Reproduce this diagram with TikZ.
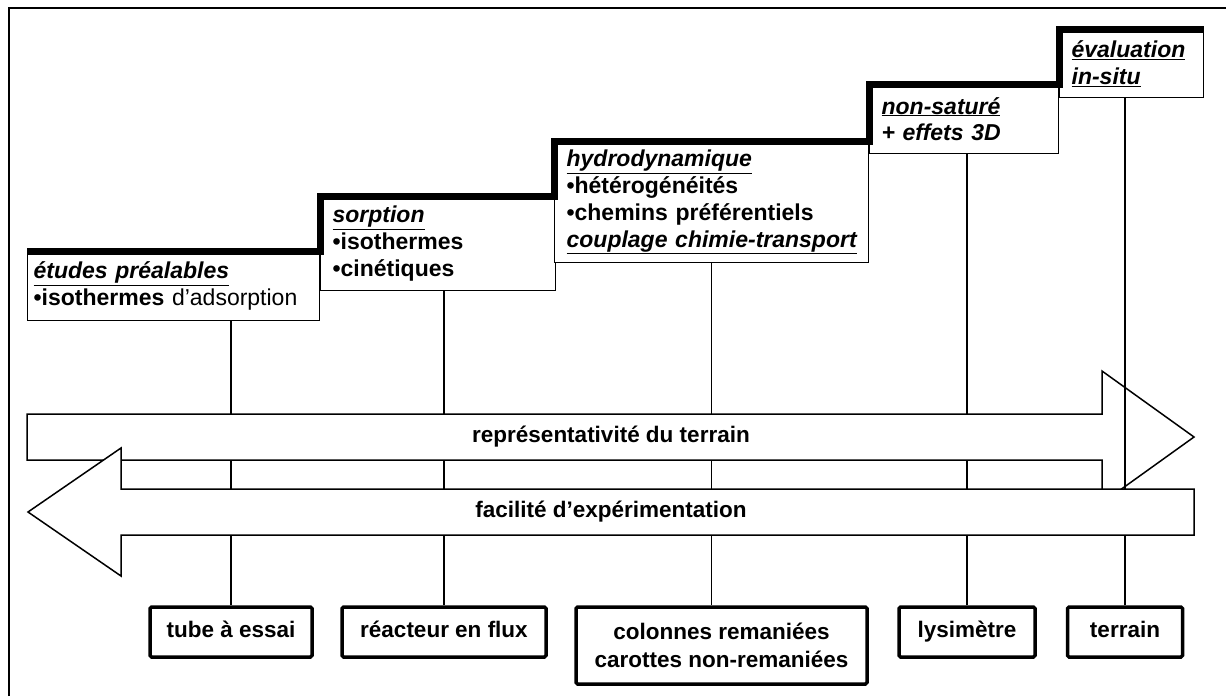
\documentclass[tikz,border=0pt]{standalone}
\usepackage{fontspec}
\setmainfont{Liberation Sans}

\begin{document}
\begin{tikzpicture}[x=1pt, y=-1pt,
    stage/.style={draw, fill=white, line width=1.2pt, anchor=north west,
                  align=left, inner xsep=12pt, inner ysep=0pt,
                  font=\bfseries\fontsize{23}{26.8}\selectfont},
    device/.style={draw, fill=white, line width=3.5pt, rounded corners=1.5pt,
                   align=center, inner sep=0pt,
                   font=\bfseries\fontsize{22.5}{28}\selectfont},
    devline/.style={device, text height=16pt, text depth=5pt},
    stair/.style={line width=7pt},
    link/.style={line width=1.5pt},
    band/.style={draw, fill=white, line width=1.5pt, line join=miter},
    bandtext/.style={font=\bfseries\fontsize{22.5}{26.7}\selectfont},
]

    \useasboundingbox (0,0) rectangle (1226,696);
    \draw[line width=2pt] (9,696) -- (9,8) -- (1226,8);

    \node[stage, inner xsep=6pt, text width=280pt, minimum height=69pt] (study) at (27,251)
        {\underline{\textit{études préalables}}\\•isothermes \textmd{d’adsorption}};
    \node[stage, text width=211pt, minimum height=94pt] (sorption) at (320,196)
        {\underline{\textit{sorption}}\\•isothermes\\•cinétiques};
    \node[stage, text width=290pt, minimum height=121pt] (hydro) at (554,141)
        {\underline{\textit{hydrodynamique}}\\•hétérogénéités\\•chemins préférentiels\\\underline{\textit{couplage chimie-transport}}};
    \node[stage, text width=165pt, minimum height=69pt] (unsat) at (869,84)
        {\underline{\textit{non-saturé}}\\\textit{+ effets 3D}};
    \node[stage, text width=120pt, minimum height=68pt] (insitu) at (1059,29)
        {\underline{\textit{évaluation}}\\\underline{\textit{in-situ}}};
    \draw[stair] (study.north west) -| (sorption.north west) -| (hydro.north west)
        -| (unsat.north west) -| (insitu.north west) -- (insitu.north east);

    \node[devline, minimum width=162pt, minimum height=50pt] (tube) at (231,632) {tube à essai};
    \node[devline, minimum width=204pt, minimum height=50pt] (reactor) at (444,632) {réacteur en flux};
    \node[device, minimum width=291pt, minimum height=77pt] (column) at (721.5,645.5)
        {colonnes remaniées\\carottes non-remaniées};
    \node[devline, minimum width=136pt, minimum height=50pt] (lysi) at (967,632) {lysimètre};
    \node[devline, minimum width=115pt, minimum height=50pt] (field) at (1125,632) {terrain};

    \draw[link] (tube.north) -- (tube.north |- study.south);
    \draw[link] (reactor.north) -- (reactor.north |- sorption.south);
    \draw[link] (hydro.south) -- (hydro.south |- column.north);
    \draw[link] (lysi.north) -- (lysi.north |- unsat.south);

    \draw[band] (27,414) -- (1102,414) -- (1102,371) -- (1194,437) -- (1102,503)
        -- (1102,460) -- (27,460) -- cycle;
    \node[bandtext] (rep) at (611,437) {représentativité du terrain};

    \draw[link] (field.north) -- (field.north |- insitu.south);

    \draw[band] (1194,489) -- (121,489) -- (121,448) -- (28,512) -- (121,576)
        -- (121,535) -- (1194,535) -- cycle;
    \node[bandtext] (fac) at (611,512) {facilité d’expérimentation};

\end{tikzpicture}
\end{document}
